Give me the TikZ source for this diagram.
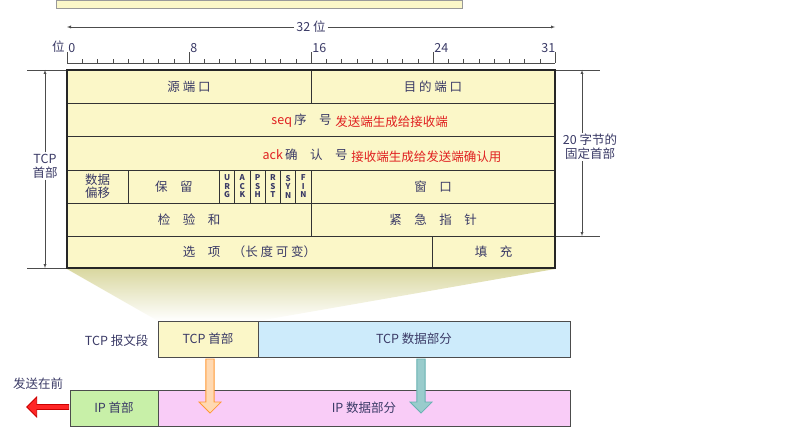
\documentclass[tikz,border=0pt]{standalone}
\usepackage{fontspec}
\setmainfont{Noto Sans CJK SC}
\usepackage{tikz}
\usetikzlibrary{shapes.arrows}
\definecolor{ink}{HTML}{3A3A66}
\definecolor{hdr}{HTML}{FBF7C8}
\definecolor{tcpdata}{HTML}{CDEBFB}
\definecolor{ipdata}{HTML}{F9CCF7}
\definecolor{iphdr}{HTML}{C8F0A8}
\definecolor{note}{HTML}{E02020}

\begin{document}
\begin{tikzpicture}[x=1pt, y=-1pt, thick]
  \tikzset{cell/.style={draw=black!80, fill=hdr, rectangle, inner sep=0pt, text=ink, font=\fontsize{12.5}{14}\selectfont},
    flag/.style={text=ink, font=\fontsize{8}{8.5}\selectfont\bfseries, align=center},
    lbl/.style={text=ink, font=\fontsize{12.5}{14}\selectfont, align=center},
    pkt/.style={draw=black!70, rectangle, inner sep=0pt, minimum height=36pt, text=ink, font=\fontsize{12.5}{14}\selectfont},
    dim/.style={draw=black!70, thin, -latex}}
  \useasboundingbox (0,0) rectangle (787,433);

  % top of previous box
  \draw [thin, black!40, fill=hdr] (56,0) rectangle (462,8);

  % 32 bit ruler
  \node [lbl, fill=white, inner sep=2pt] (width) at (311,27) {32 位};
  \coordinate (wl) at (67,27);
  \coordinate (wr) at (555,27);
  \draw [dim] (width) -- (wl);
  \draw [dim] (width) -- (wr);
  \draw [thin, black!70] (67,63) -- (555,63);
  \foreach \i in {0, 1, ..., 32} {
    \draw [thin, black!70] ({67 + \i * 15.25}, 63) -- ++(0,-4);
  }
  \foreach \i/\v in {0/0, 8/8, 16/16, 24/24, 32/31} {
    \draw [thin, black!70] ({67 + \i * 15.25}, 63) -- ++(0,-11);
    \node [lbl, anchor=south west, inner sep=1pt] (bit-\i) at ({67 + \i * 15.25 - (\i == 32 ? 15 : 0)}, 54) {\v};
  }
  \node [lbl, anchor=south east, inner sep=1pt] (unit) at (66,54) {位};

  % header fields
  \node [cell, minimum width=244pt, minimum height=33pt] (src) at (189,86.5) {源\ 端\ 口};
  \node [cell, minimum width=244pt, minimum height=33pt] (dst) at (433,86.5) {目\ 的\ 端\ 口};
  \node [cell, minimum width=488pt, minimum height=33pt] (seq) at (311,119.5) {};
  \node [cell, minimum width=488pt, minimum height=34pt] (ack) at (311,153) {};
  \node [cell, minimum width=61pt, minimum height=33pt, align=center, font=\fontsize{12.5}{13}\selectfont] (off) at (97.5,186.5) {数据\\偏移};
  \node [cell, minimum width=91.5pt, minimum height=33pt] (rsv) at (173.75,186.5) {保\quad 留};
  \foreach \i/\f in {0/{U\\R\\G}, 1/{A\\C\\K}, 2/{P\\S\\H}, 3/{R\\S\\T}, 4/{S\\Y\\N}, 5/{F\\I\\N}} {
    \node [cell, minimum width=15.25pt, minimum height=33pt] (flag-\i) at ({227.125 + \i * 15.25}, 186.5) {};
    \node [flag] at (flag-\i) {\f};
  }
  \node [cell, minimum width=244pt, minimum height=33pt] (win) at (433,186.5) {窗\quad 口};
  \node [cell, minimum width=244pt, minimum height=33pt] (chk) at (189,219.5) {检\quad 验\quad 和};
  \node [cell, minimum width=244pt, minimum height=33pt] (urp) at (433,219.5) {紧\quad 急\quad 指\quad 针};
  \node [cell, minimum width=365pt, minimum height=32pt] (opt) at (249.5,252) {选\quad 项\quad （长\ 度\ 可\ 变）};
  \node [cell, minimum width=123pt, minimum height=32pt] (pad) at (493.5,252) {填\quad 充};
  \draw [black!85, line width=1.2pt] (67,70) rectangle (555,268);

  \node [lbl, anchor=east, inner sep=1pt] (seqtxt) at (333,121) {\textcolor{note}{seq}\,序\quad 号};
  \node [lbl, anchor=west, inner sep=1pt, text=note] (seqnote) at (334,122) {发送端生成给接收端};
  \node [lbl, anchor=east, inner sep=1pt] (acktxt) at (349,155) {\textcolor{note}{ack}\,确\quad 认\quad 号};
  \node [lbl, anchor=west, inner sep=1pt, text=note] (acknote) at (350,157) {接收端生成给发送端确认用};

  % left dimension
  \draw [thin, black!70] (27,70) -- (66,70);
  \draw [thin, black!70] (27,268) -- (66,268);
  \node [lbl, fill=white, inner sep=1pt, font=\fontsize{12.5}{14}\selectfont] (tcphdr) at (45,166) {TCP\\首部};
  \coordinate (lt) at (45,70);
  \coordinate (lb) at (45,268);
  \draw [dim] (tcphdr.north -| lt) -- (lt);
  \draw [dim] (tcphdr.south -| lb) -- (lb);

  % right dimension
  \draw [thin, black!70] (556,70) -- (600,70);
  \draw [thin, black!70] (556,236) -- (600,236);
  \node [lbl, fill=white, inner sep=1pt, font=\fontsize{12.5}{14}\selectfont] (fixed) at (590,147) {20 字节的\\固定首部};
  \coordinate (rt) at (582,70);
  \coordinate (rb) at (582,236);
  \draw [dim] (fixed.north -| rt) -- (rt);
  \draw [dim] (fixed.south -| rb) -- (rb);

  % expansion
  \shade [top color=hdr!60!olive!70, bottom color=white] (67,269) -- (555,269) -- (258,321) -- (158,321) -- cycle;

  % segment and datagram
  \node [pkt, fill=hdr, minimum width=100pt] (tcph) at (208,339) {TCP 首部};
  \node [pkt, fill=tcpdata, minimum width=312pt] (tcpd) at (414,339) {TCP 数据部分};
  \node [lbl, anchor=east] (seg) at (152,341) {TCP 报文段};
  \node [pkt, fill=iphdr, minimum width=88pt] (iph) at (114,408) {IP 首部};
  \node [pkt, fill=ipdata, minimum width=412pt] (ipd) at (364,408) {IP 数据部分};
  \node [single arrow, shape border rotate=270, draw=orange!80, fill=orange!30, minimum height=54pt, minimum width=22pt, single arrow head extend=4pt, inner sep=2pt] (down-h) at (210,384) {};
  \node [single arrow, shape border rotate=270, draw=teal!60, fill=teal!40, minimum height=54pt, minimum width=22pt, single arrow head extend=4pt, inner sep=2pt] (down-d) at (421,384) {};
  \node [lbl, anchor=south] (first) at (38,393) {发送在前};
  \node [single arrow, shape border rotate=180, draw=red!80!black, fill=red!85, minimum height=42pt, minimum width=20pt, single arrow head extend=4pt, inner sep=1pt] (send) at (49,407) {};
\end{tikzpicture}
\end{document}
